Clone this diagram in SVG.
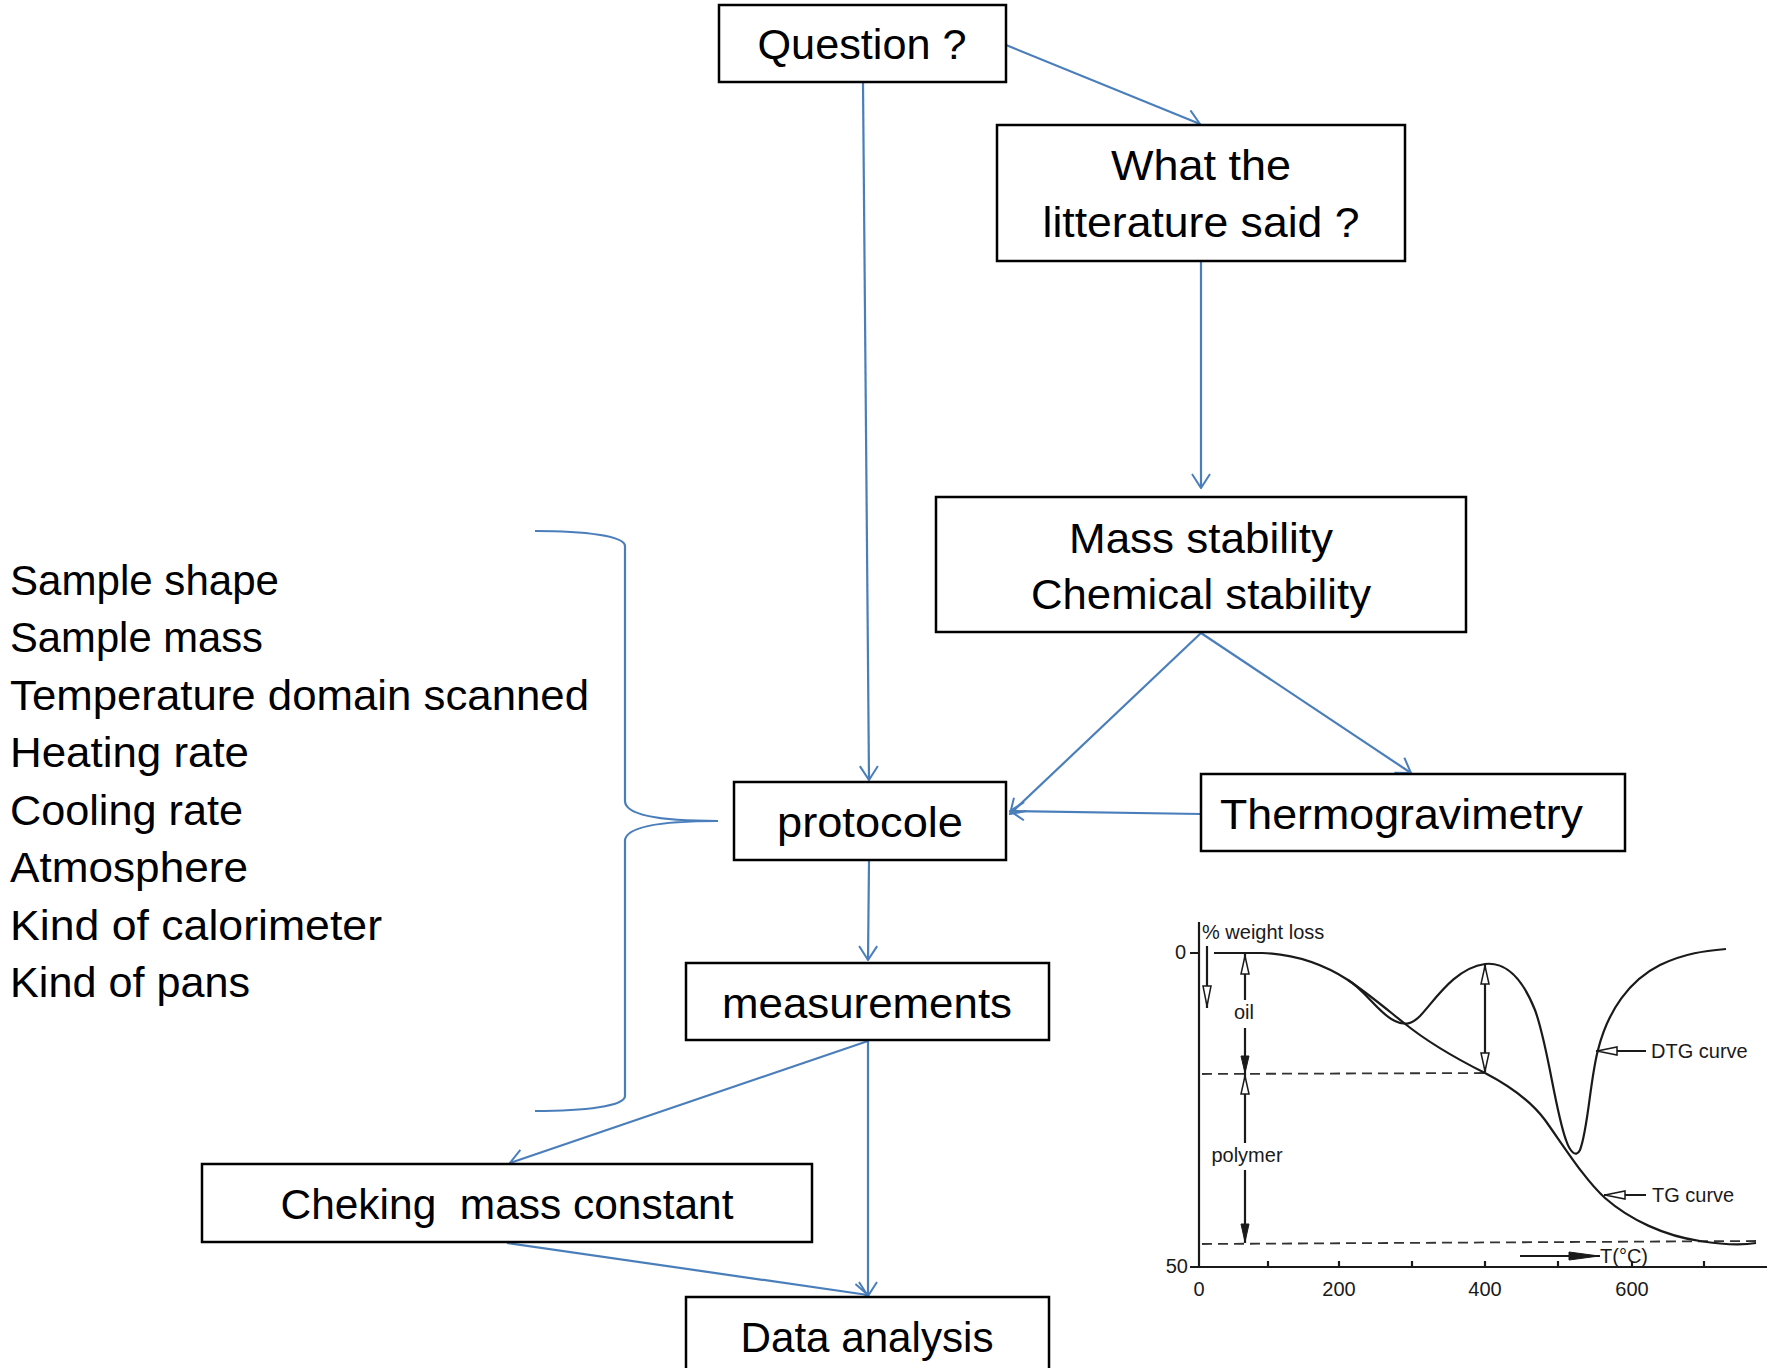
<svg xmlns="http://www.w3.org/2000/svg" width="1767" height="1368" viewBox="0 0 1767 1368">
<style>
.box{fill:#fff;stroke:#000;stroke-width:2.5}
.t{font-family:"Liberation Sans",Arial,sans-serif;font-size:42px;fill:#000}
.c{text-anchor:middle}
.con{fill:none;stroke:#4A7EBB;stroke-width:2.2}
.ch{fill:none;stroke:#1a1a1a;stroke-width:2.2}
.ct{font-family:"Liberation Sans",Arial,sans-serif;font-size:20px;fill:#1a1a1a}
.dash{fill:none;stroke:#333;stroke-width:1.8;stroke-dasharray:10 6}
.tri{fill:#1a1a1a;stroke:#1a1a1a;stroke-width:1}
.trio{fill:#fff;stroke:#1a1a1a;stroke-width:1.5}
</style>
<defs>
<marker id="ah" viewBox="0 0 16 20" refX="15" refY="10" markerWidth="16" markerHeight="20" markerUnits="userSpaceOnUse" orient="auto">
<path d="M1,1 L15,10 L1,19" fill="none" stroke="#4A7EBB" stroke-width="2"/>
</marker>
</defs>
<rect width="1767" height="1368" fill="#fff"/>

<g id="connectors">
<path class="con" marker-end="url(#ah)" d="M1006,45 L1200,124"/>
<path class="con" marker-end="url(#ah)" d="M863,83 L869,780"/>
<path class="con" marker-end="url(#ah)" d="M1201,262 L1201,488"/>
<path class="con" marker-end="url(#ah)" d="M1201,633 L1010,814"/>
<path class="con" marker-end="url(#ah)" d="M1201,633 L1411,773"/>
<path class="con" marker-end="url(#ah)" d="M1201,814 L1010,811"/>
<path class="con" marker-end="url(#ah)" d="M869,861 L868,960"/>
<path class="con" marker-end="url(#ah)" d="M868,1041 L510,1163"/>
<path class="con" marker-end="url(#ah)" d="M868,1041 L868,1296"/>
<path class="con" marker-end="url(#ah)" d="M507,1243 L868,1295"/>
<path class="con" d="M535,531 C585,531 625,536 625,546 L625,801 C625,813 650,821 718,821 C650,821 625,829 625,841 L625,1096 C625,1106 585,1111 535,1111"/>
</g>

<g id="n-question"><rect class="box" x="719" y="5" width="287" height="77"/><text class="t c" x="862" y="59" textLength="209" lengthAdjust="spacingAndGlyphs">Question ?</text></g>
<g id="n-literature"><rect class="box" x="997" y="125" width="408" height="136"/><text class="t c" x="1201" y="180" textLength="180" lengthAdjust="spacingAndGlyphs">What the</text><text class="t c" x="1201" y="237" textLength="317" lengthAdjust="spacingAndGlyphs">litterature said ?</text></g>
<g id="n-stability"><rect class="box" x="936" y="497" width="530" height="135"/><text class="t c" x="1201" y="553" textLength="264" lengthAdjust="spacingAndGlyphs">Mass stability</text><text class="t c" x="1201" y="609" textLength="340" lengthAdjust="spacingAndGlyphs">Chemical stability</text></g>
<g id="n-protocole"><rect class="box" x="734" y="782" width="272" height="78"/><text class="t c" x="870" y="837" textLength="186" lengthAdjust="spacingAndGlyphs">protocole</text></g>
<g id="n-thermo"><rect class="box" x="1201" y="774" width="424" height="77"/><text class="t" x="1220" y="829" textLength="363" lengthAdjust="spacingAndGlyphs">Thermogravimetry</text></g>
<g id="n-measurements"><rect class="box" x="686" y="963" width="363" height="77"/><text class="t c" x="867" y="1018" textLength="290" lengthAdjust="spacingAndGlyphs">measurements</text></g>
<g id="n-cheking"><rect class="box" x="202" y="1164" width="610" height="78"/><text class="t c" x="507" y="1219" textLength="453" lengthAdjust="spacingAndGlyphs" xml:space="preserve">Cheking  mass constant</text></g>
<g id="n-data"><rect class="box" x="686" y="1297" width="363" height="80"/><text class="t c" x="867" y="1352" textLength="253" lengthAdjust="spacingAndGlyphs">Data analysis</text></g>

<g id="n-params">
<text class="t" x="10" y="595" textLength="269" lengthAdjust="spacingAndGlyphs">Sample shape</text>
<text class="t" x="10" y="652" textLength="253" lengthAdjust="spacingAndGlyphs">Sample mass</text>
<text class="t" x="10" y="710" textLength="579" lengthAdjust="spacingAndGlyphs">Temperature domain scanned</text>
<text class="t" x="10" y="767" textLength="239" lengthAdjust="spacingAndGlyphs">Heating rate</text>
<text class="t" x="10" y="825" textLength="233" lengthAdjust="spacingAndGlyphs">Cooling rate</text>
<text class="t" x="10" y="882" textLength="238" lengthAdjust="spacingAndGlyphs">Atmosphere</text>
<text class="t" x="10" y="940" textLength="372" lengthAdjust="spacingAndGlyphs">Kind of calorimeter</text>
<text class="t" x="10" y="997" textLength="240" lengthAdjust="spacingAndGlyphs">Kind of pans</text>
</g>

<g id="chart">
<path class="ch" d="M1199,922 L1199,1267 L1767,1267"/>
<path class="ch" d="M1190,953 L1199,953 M1190,1267 L1199,1267"/>
<path class="ch" stroke-width="1.5" d="M1268,1267 V1261 M1339,1267 V1261 M1412,1267 V1261 M1485,1267 V1261 M1558,1267 V1261 M1632,1267 V1261 M1704,1267 V1261"/>
<text class="ct" x="1186" y="959" text-anchor="end">0</text>
<text class="ct" x="1188" y="1273" text-anchor="end">50</text>
<text class="ct" x="1199" y="1296" text-anchor="middle">0</text>
<text class="ct" x="1339" y="1296" text-anchor="middle">200</text>
<text class="ct" x="1485" y="1296" text-anchor="middle">400</text>
<text class="ct" x="1632" y="1296" text-anchor="middle">600</text>
<text class="ct" x="1202" y="939">% weight loss</text>
<path class="ch" stroke-width="1.5" d="M1207,946 L1207,1008"/>
<polygon class="trio" points="1203,986 1211,986 1207,1006"/>
<path class="dash" d="M1202,1074 L1485,1073"/>
<path class="dash" d="M1202,1244 L1756,1241"/>
<path class="ch" stroke-width="5" d="M1214,953 L1262,953"/>
<path class="ch" d="M1214,953 L1262,953 C1290,954 1320,962 1348,980 C1370,995 1390,1012 1404,1023 C1425,1040 1455,1058 1485,1073 C1510,1086 1530,1100 1545,1120 C1565,1148 1585,1180 1605,1198 C1630,1220 1665,1236 1700,1241 C1725,1245 1745,1245 1756,1243"/>
<path class="ch" d="M1348,980 C1365,990 1380,1015 1395,1021 C1405,1026 1412,1024 1420,1016 C1435,1000 1455,968 1485,964 C1510,961 1525,985 1535,1010 C1548,1045 1555,1110 1566,1140 C1570,1152 1576,1158 1580,1150 C1588,1130 1590,1080 1598,1050 C1608,1010 1630,980 1660,965 C1685,953 1705,951 1726,949"/>
<path class="ch" stroke-width="1.5" d="M1245,954 L1245,1000 M1245,1028 L1245,1074 M1245,1074 L1245,1143 M1245,1170 L1245,1243"/>
<polygon class="trio" points="1245,956 1241,974 1249,974"/>
<polygon class="tri" points="1245,1073 1241,1056 1249,1056"/>
<polygon class="trio" points="1245,1076 1241,1094 1249,1094"/>
<polygon class="tri" points="1245,1242 1241,1224 1249,1224"/>
<text class="ct" x="1244" y="1019" text-anchor="middle">oil</text>
<text class="ct" x="1247" y="1162" text-anchor="middle" font-size="21">polymer</text>
<path class="ch" stroke-width="1.5" d="M1485,965 L1485,1072"/>
<polygon class="trio" points="1485,966 1481,984 1489,984"/>
<polygon class="trio" points="1485,1071 1481,1053 1489,1053"/>
<path class="ch" stroke-width="1.5" d="M1646,1051 L1596,1051"/>
<polygon class="trio" points="1597,1051 1617,1047 1617,1055"/>
<text class="ct" x="1651" y="1058">DTG curve</text>
<path class="ch" stroke-width="1.5" d="M1646,1195 L1604,1195"/>
<polygon class="trio" points="1605,1195 1625,1191 1625,1199"/>
<text class="ct" x="1652" y="1202">TG curve</text>
<path class="ch" stroke-width="1.5" d="M1520,1256 L1600,1256"/>
<polygon class="tri" points="1599,1256 1569,1252 1569,1260"/>
<text class="ct" x="1600" y="1263">T(°C)</text>
</g>
</svg>
